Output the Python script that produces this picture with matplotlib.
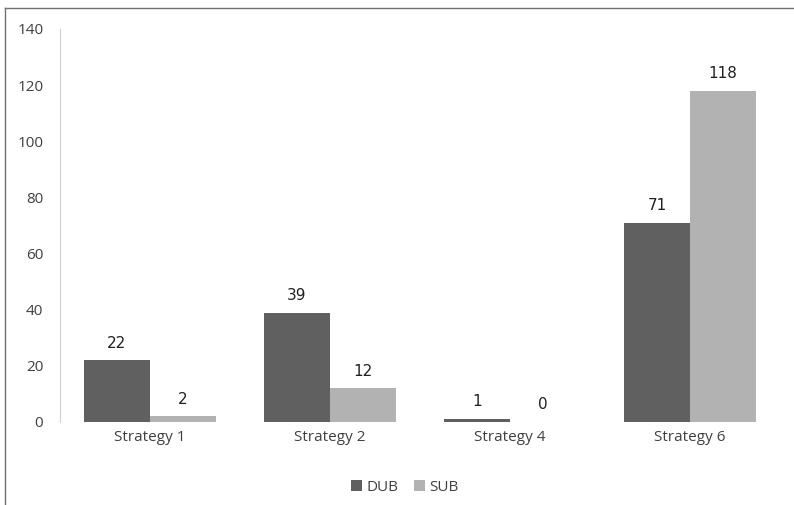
import matplotlib.pyplot as plt
import numpy as np
from matplotlib.lines import Line2D

categories = ["Strategy 1", "Strategy 2", "Strategy 4", "Strategy 6"]
dub = [22, 39, 1, 71]
sub = [2, 12, 0, 118]
y_ticks = [0, 20, 40, 60, 80, 100, 120, 140]

DUB_COLOR = "#606060"
SUB_COLOR = "#b2b2b2"
TEXT = "#404040"

plt.rcParams["font.family"] = ["Open Sans", "DejaVu Sans"]

fig = plt.figure(figsize=(7.94, 5.05), dpi=100)
ax = fig.add_axes([0.0756, 0.1644, 0.9068, 0.7782])

x = np.arange(len(categories))
w = 0.367
b1 = ax.bar(x - w / 2, dub, w, color=DUB_COLOR, label="DUB")
b2 = ax.bar(x + w / 2, sub, w, color=SUB_COLOR, label="SUB")

for bars in (b1, b2):
    for rect in bars:
        h = rect.get_height()
        ax.annotate(f"{h:g}", (rect.get_x() + rect.get_width() / 2, h),
                    xytext=(0, 7), textcoords="offset points",
                    ha="center", va="bottom", fontsize=11, color="#202020",
                    family="DejaVu Sans")

ax.set_xlim(-0.5, len(categories) - 0.5)
ax.set_ylim(0, 140)
ax.set_yticks(y_ticks)
ax.set_xticks(x)
ax.set_xticklabels(categories)
ax.tick_params(axis="both", length=0, labelsize=11, labelcolor=TEXT)
ax.tick_params(axis="y", pad=12)
ax.tick_params(axis="x", pad=6)

for side in ("top", "right", "bottom"):
    ax.spines[side].set_visible(False)
ax.spines["left"].set_color("#d0d0d0")

fig.legend(loc="center", bbox_to_anchor=(0.51, 0.035), ncol=2, frameon=False,
           fontsize=11, handlelength=0.7, handleheight=0.7, handletextpad=0.3,
           columnspacing=1.0, labelcolor=TEXT)

fig.add_artist(Line2D([0.0063, 1.0], [0.984, 0.984], color="#707070", lw=1.0))
fig.add_artist(Line2D([0.0063, 0.0063], [0.0, 0.984], color="#707070", lw=1.0))

fig.savefig("out.png", dpi=100)
